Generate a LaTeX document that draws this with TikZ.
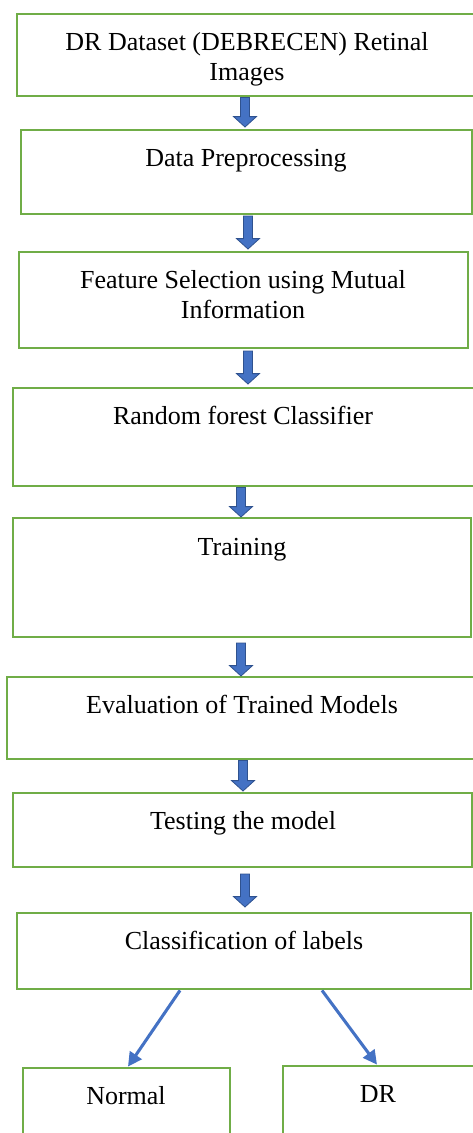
\documentclass[tikz,border=0pt]{standalone}
\usepackage{fontspec}
\setmainfont{Liberation Serif}
\usetikzlibrary{fit,arrows.meta,calc}
\definecolor{boxgreen}{HTML}{70AD47}
\definecolor{arrblue}{HTML}{4472C4}
\definecolor{arrdark}{HTML}{2F528F}
\newcommand\blockarr[2]{%
  \filldraw[barrow] let \p1=(#1), \p2=(#2) in
    (\x1-3.4pt,\y1) -- (\x1+3.4pt,\y1) -- (\x1+3.4pt,\y2+7.8pt) -- (\x1+8.6pt,\y2+7.8pt)
    -- (\x1,\y2) -- (\x1-8.6pt,\y2+7.8pt) -- (\x1-3.4pt,\y2+7.8pt) -- cycle;}
\begin{document}
\begin{tikzpicture}[x=0.75pt,y=-0.75pt,
  box/.style={draw=boxgreen, line width=2.1pt, inner sep=0pt},
  lbl/.style={font=\fontsize{19.5}{22.5}\selectfont, inner sep=0pt, anchor=base, align=center},
  barrow/.style={fill=arrblue, draw=arrdark, line width=0.6pt},
  diag/.style={draw=arrblue, line width=2.3pt, -{Triangle[length=10.5pt,width=10.5pt]}}]
\useasboundingbox (0,0) rectangle (473,1133);
\clip (0,0) rectangle (473,1133);
% boxes
\node[box, fit={(17,14) (477,96)}] (b1) {};
\node[box, fit={(21,130) (472,214)}] (b2) {};
\node[box, fit={(19,252) (468,348)}] (b3) {};
\node[box, fit={(13,388) (477,486)}] (b4) {};
\node[box, fit={(13,518) (471,637)}] (b5) {};
\node[box, fit={(7,677) (477,759)}] (b6) {};
\node[box, fit={(13,793) (472,867)}] (b7) {};
\node[box, fit={(17,913) (471,989)}] (b8) {};
\node[box, fit={(23,1068) (230,1140)}] (bn) {};
\node[box, fit={(283,1066) (477,1140)}] (bd) {};
% labels
\node[lbl] (t1) at (247,80) {DR Dataset (DEBRECEN) Retinal\\Images};
\node[lbl] (t2) at (246,166) {Data Preprocessing};
\node[lbl] (t3) at (243,318) {Feature Selection using Mutual\\Information};
\node[lbl] (t4) at (243,424) {Random forest Classifier};
\node[lbl] (t5) at (242,555) {Training};
\node[lbl] (t6) at (242,713) {Evaluation of Trained Models};
\node[lbl] (t7) at (243,829) {Testing the model};
\node[lbl] (t8) at (244,949) {Classification of labels};
\node[lbl] (tn) at (126,1104) {Normal};
\node[lbl] (td) at (378,1102) {DR};
% block arrows
\coordinate (s1) at (245,0 |- b1.south); \coordinate (e1) at (245,127);
\coordinate (s2) at (248,216); \coordinate (e2) at (248,249);
\coordinate (s3) at (248,351); \coordinate (e3) at (248,384);
\coordinate (s4) at (241,0 |- b4.south); \coordinate (e4) at (241,517);
\coordinate (s5) at (241,643); \coordinate (e5) at (241,676);
\coordinate (s6) at (243,0 |- b6.south); \coordinate (e6) at (243,791);
\coordinate (s7) at (245,874); \coordinate (e7) at (245,907);
\blockarr{s1}{e1}
\blockarr{s2}{e2}
\blockarr{s3}{e3}
\blockarr{s4}{e4}
\blockarr{s5}{e5}
\blockarr{s6}{e6}
\blockarr{s7}{e7}
% diagonal arrows
\draw[diag] (180,0 |- b8.south) -- (128,0 |- bn.north);
\draw[diag] (322,0 |- b8.south) -- (377,0 |- bd.north);
\end{tikzpicture}
\end{document}
